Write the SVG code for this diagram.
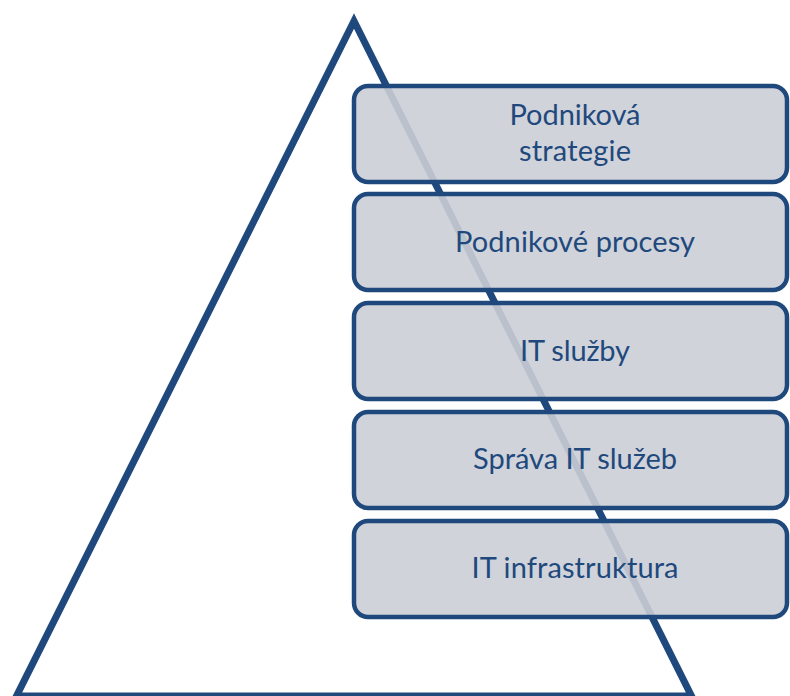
<svg xmlns="http://www.w3.org/2000/svg" width="790" height="696" viewBox="0 0 790 696">
  <style>
    .box { fill: #CBCED6; fill-opacity: 0.9; stroke: #1F497D; stroke-width: 4.5; }
    .lbl { font-family: "Lato", "Open Sans", "Liberation Sans", sans-serif; font-size: 29px; fill: #1F497D; text-anchor: middle; }
  </style>
  <rect x="0" y="0" width="790" height="696" fill="#FFFFFF"/>
  <g id="pyramid">
    <polygon points="354,21 691.5,696 16.5,696" fill="none" stroke="#1F497D" stroke-width="7" stroke-linejoin="miter"/>
  </g>
  <g id="node-strategie">
    <rect class="box" x="354" y="86" width="433" height="96" rx="14" ry="14"/>
    <text class="lbl" x="575" y="125" textLength="131">Podniková</text>
    <text class="lbl" x="575" y="161" textLength="112">strategie</text>
  </g>
  <g id="node-procesy">
    <rect class="box" x="354" y="194" width="433" height="96" rx="14" ry="14"/>
    <text class="lbl" x="575" y="252" textLength="240">Podnikové procesy</text>
  </g>
  <g id="node-sluzby">
    <rect class="box" x="354" y="303" width="433" height="96" rx="14" ry="14"/>
    <text class="lbl" x="575" y="361" textLength="110">IT služby</text>
  </g>
  <g id="node-sprava">
    <rect class="box" x="354" y="412" width="433" height="96" rx="14" ry="14"/>
    <text class="lbl" x="575" y="469" textLength="204">Správa IT služeb</text>
  </g>
  <g id="node-infrastruktura">
    <rect class="box" x="354" y="521" width="433" height="96" rx="14" ry="14"/>
    <text class="lbl" x="575" y="578" textLength="207">IT infrastruktura</text>
  </g>
  <g id="connectors"/>
</svg>
